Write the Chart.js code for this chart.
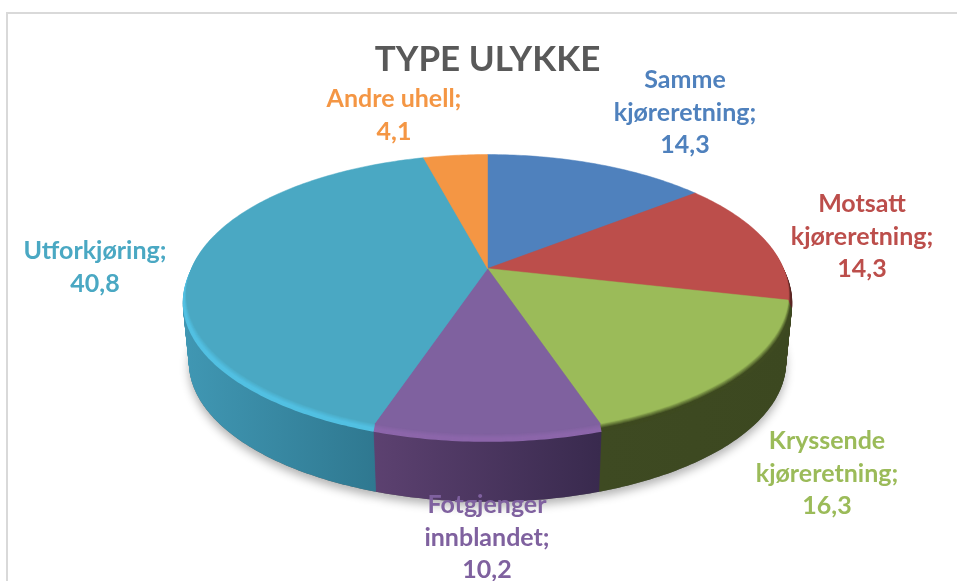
<!DOCTYPE html>
<html>
<head>
<meta charset="utf-8">
<title>Type ulykke</title>
<script src="https://cdn.jsdelivr.net/npm/chart.js@4"></script>
<style>
  html, body { margin: 0; padding: 0; background: #fff; overflow: hidden; }
  #frame { position: absolute; left: 6px; top: 12px; width: 960px; height: 600px; border-left: 2px solid #d9d9d9; border-top: 2px solid #d9d9d9; }
  #wrap { position: absolute; left: 0; top: 0; width: 957px; height: 581px; }
</style>
</head>
<body>
<div id="frame"></div>
<div id="wrap"><canvas id="ulykke_pie"></canvas></div>
<script>
const categories = ['Samme kjøreretning', 'Motsatt kjøreretning', 'Kryssende kjøreretning', 'Fotgjenger innblandet', 'Utforkjøring', 'Andre uhell'];
const values = [14.3, 14.3, 16.3, 10.2, 40.8, 4.1];

// label text, one array per line break
const labelLines = [
  ['Samme', 'kjøreretning;', '14,3'],
  ['Motsatt', 'kjøreretning;', '14,3'],
  ['Kryssende', 'kjøreretning;', '16,3'],
  ['Fotgjenger', 'innblandet;', '10,2'],
  ['Utforkjøring;', '40,8'],
  ['Andre uhell;', '4,1']
];

const faceColors = ['#4f81bd', '#bc4e4b', '#9bbb59', '#7f619f', '#4aa8c3', '#f49644'];
const rimColors = ['#3a6596', '#5a2623', '#3e4a20', '#8c66aa', '#52c0e2', '#c07030'];
const wallLeft = ['#3a6596', '#7a2f2d', '#3e4a22', '#5c4170', '#4097b3', '#b06a30'];
const wallRight = ['#3a6596', '#5a2623', '#3c4820', '#392a4e', '#2f7890', '#b06a30'];
const wallX = [[487, 692], [692, 790], [600, 790], [375, 600], [185, 376], [425, 487]];

// anchor of each label block: horizontal centre, first line centre
const labelAnchors = [[685, 80], [862, 204], [827, 441], [487, 505], [95, 251], [394, 99]];

const PIE_X = 297 / 176;   // horizontal stretch of the tilted disc
const PIE_Y = 133.8 / 176; // vertical squash
const TILT = 0.184;        // perspective, back smaller than front
const DEPTH = 68;
const BEVEL = 9;

function hexToRgb(h) {
  return [1, 3, 5].map(i => parseInt(h.substr(i, 2), 16));
}
function mix(a, b, t) {
  const p = hexToRgb(a), q = hexToRgb(b);
  return 'rgb(' + p.map((v, i) => Math.round(v + (q[i] - v) * t)).join(',') + ')';
}

// trace one slice on the tilted disc, angles come from the chart's arc element
function traceSlice(ctx, arc, shift, sx) {
  const R = arc.outerRadius;
  const project = (angle) => {
    const w = 1 - TILT * Math.sin(angle);
    return [arc.x + R * sx * Math.cos(angle) / w, arc.y + shift + R * PIE_Y * Math.sin(angle) / w];
  };
  ctx.beginPath();
  ctx.moveTo(arc.x, arc.y + shift);
  const steps = Math.max(2, Math.ceil((arc.endAngle - arc.startAngle) / 0.015));
  for (let i = 0; i <= steps; i++) {
    const p = project(arc.startAngle + (arc.endAngle - arc.startAngle) * i / steps);
    ctx.lineTo(p[0], p[1]);
  }
  ctx.closePath();
}

const tiltedPie = {
  id: 'tiltedPie',
  beforeDatasetsDraw(chart) {
    const ctx = chart.ctx;
    const arcs = chart.getDatasetMeta(0).data;
    const faceX = PIE_X * 0.988;

    // soft shadow under the disc
    ctx.save();
    ctx.shadowColor = 'rgba(0,0,0,0.3)';
    ctx.shadowBlur = 10;
    ctx.shadowOffsetX = 0;
    ctx.shadowOffsetY = 5;
    ctx.fillStyle = '#666';
    arcs.forEach(arc => {
      traceSlice(ctx, arc, DEPTH, PIE_X * 0.98);
      ctx.fill();
    });
    ctx.restore();

    // side wall, stacked from the bottom up
    for (let s = DEPTH; s >= BEVEL; s--) {
      const sx = PIE_X - (PIE_X * 0.02) * (s - BEVEL) / (DEPTH - BEVEL);
      arcs.forEach((arc, i) => {
        const g = ctx.createLinearGradient(wallX[i][0], 0, wallX[i][1], 0);
        g.addColorStop(0, wallLeft[i]);
        g.addColorStop(1, wallRight[i]);
        ctx.fillStyle = g;
        traceSlice(ctx, arc, s, sx);
        ctx.fill();
      });
    }

    // bevel fading into the face
    for (let s = BEVEL - 1; s >= 1; s--) {
      const t = s / (BEVEL - 1);
      const sx = faceX + (PIE_X - faceX) * t;
      arcs.forEach((arc, i) => {
        ctx.fillStyle = mix(faceColors[i], rimColors[i], Math.min(1, t * 1.6));
        traceSlice(ctx, arc, s, sx);
        ctx.fill();
      });
    }

    arcs.forEach((arc, i) => {
      ctx.fillStyle = faceColors[i];
      ctx.strokeStyle = faceColors[i];
      ctx.lineWidth = 0.5;
      traceSlice(ctx, arc, 0, faceX);
      ctx.fill();
      ctx.stroke();
    });
    return false;
  },
  afterDraw(chart) {
    const ctx = chart.ctx;
    ctx.save();
    ctx.font = '700 25px Lato, sans-serif';
    ctx.textAlign = 'center';
    ctx.textBaseline = 'middle';
    labelLines.forEach((lines, i) => {
      ctx.fillStyle = faceColors[i];
      lines.forEach((line, j) => {
        ctx.fillText(line, labelAnchors[i][0], labelAnchors[i][1] + j * 32.5);
      });
    });
    ctx.restore();
  }
};

new Chart(document.getElementById('ulykke_pie').getContext('2d'), {
  type: 'pie',
  data: {
    labels: categories,
    datasets: [{
      label: 'Type ulykke',
      data: values,
      backgroundColor: faceColors,
      borderWidth: 0
    }]
  },
  options: {
    responsive: true,
    maintainAspectRatio: false,
    animation: false,
    layout: { padding: { left: 18, top: 29, bottom: 135 } },
    plugins: {
      legend: { display: false },
      tooltip: { enabled: false },
      title: {
        display: true,
        text: 'TYPE ULYKKE',
        color: '#595959',
        font: { family: 'Lato, sans-serif', size: 35, weight: '700' },
        padding: 10
      }
    }
  },
  plugins: [tiltedPie]
});
</script>
</body>
</html>
